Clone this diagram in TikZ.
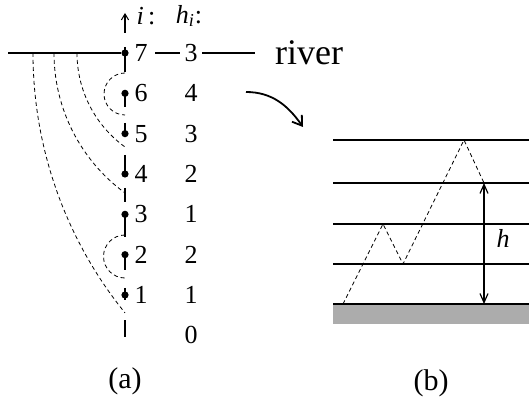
\documentclass[tikz,border=0pt]{standalone}
\usepackage{fontspec}
\setmainfont{Liberation Serif}
\usetikzlibrary{arrows.meta}

\begin{document}
\begin{tikzpicture}[x=0.5pt,y=0.5pt,
        dot/.style={circle,fill,inner sep=0pt,minimum size=3.6pt},
        num/.style={font=\fontsize{13}{15}\selectfont,inner sep=0pt},
        caption/.style={font=\fontsize{15}{17}\selectfont,inner sep=0pt},
        flow/.style={dash pattern=on 2pt off 1.5pt,line width=0.4pt},
        level/.style={line width=0.6pt}]
        \useasboundingbox (0,0) rectangle (529,-405);

        % (a) the levels along the river
        \draw[line width=1pt,{Straight Barb[length=3pt,width=3.6pt,line width=0.5pt]}-] (125,-13) -- (125,-33);
        \foreach \a/\b in {47/72,90/107,123/133,155/175,188/202,212/237,252/270,288/300,320/337}
            \draw[line width=1pt] (125,-\a) -- (125,-\b);
        \foreach \i/\h in {7/3,6/4,5/3,4/2,3/1,2/2,1/1} {
            \node[dot] (p\i) at (125,{-53-(7-\i)*40.33}) {};
            \node[num] (i\i) at (141,{-53-(7-\i)*40.33}) {\i};
            \node[num] (h\i) at (191,{-53-(7-\i)*40.33}) {\h};
        }
        \node[num] (h0) at (191,-335) {0};
        \node[num] (ihead) at (146,-16) {\textit{i}\,:};
        \node[num] (hhead) at (189,-16) {\textit{h}\textsubscript{\textit{i}}:};

        \draw[line width=0.9pt] (8,-53) -- (p7);
        \draw[line width=0.9pt] (155,-53) -- (180,-53);
        \draw[line width=0.9pt] (202,-53) -- (255,-53);
        \node[font=\fontsize{18}{20}\selectfont,inner sep=0pt] (river) at (309,-53) {river};

        \draw[flow] (33,-53) arc[start angle=180,end angle=219,radius=413];
        \draw[flow] (54,-53) arc[start angle=180,end angle=233.8,radius=173.5];
        \draw[flow] (77,-53) arc[start angle=180,end angle=234.1,radius=116];
        \draw[flow] (125,-73) arc[start angle=90,end angle=270,radius=21];
        \draw[flow] (125,-235) arc[start angle=90,end angle=270,radius=21.5];

        \coordinate (bend) at (246,-92);
        \coordinate (zoomto) at (303,-127);
        \draw[line width=0.9pt,-{Straight Barb[length=4.5pt,width=6pt]}] (bend) to[out=0,in=125] (zoomto);

        % (b) one step of height h
        \fill[gray!65] (333,-304) rectangle (529,-324);
        \foreach \y in {140,183,224,264,304}
            \draw[level] (333,-\y) -- (529,-\y);
        \draw[flow] (343,-304) -- (383,-224) -- (403,-264) -- (464,-140) -- (484,-183);
        \coordinate (hup) at (484,-183);
        \coordinate (hdown) at (484,-304);
        \draw[line width=0.6pt,{Straight Barb[length=4.5pt,width=4pt]}-{Straight Barb[length=4.5pt,width=4pt]}] (hup) -- (hdown);
        \node[num] (hlab) at (503,-238) {\textit{h}};

        \node[caption] (capa) at (125,-381) {(a)};
        \node[caption] (capb) at (431,-383) {(b)};
\end{tikzpicture}
\end{document}
